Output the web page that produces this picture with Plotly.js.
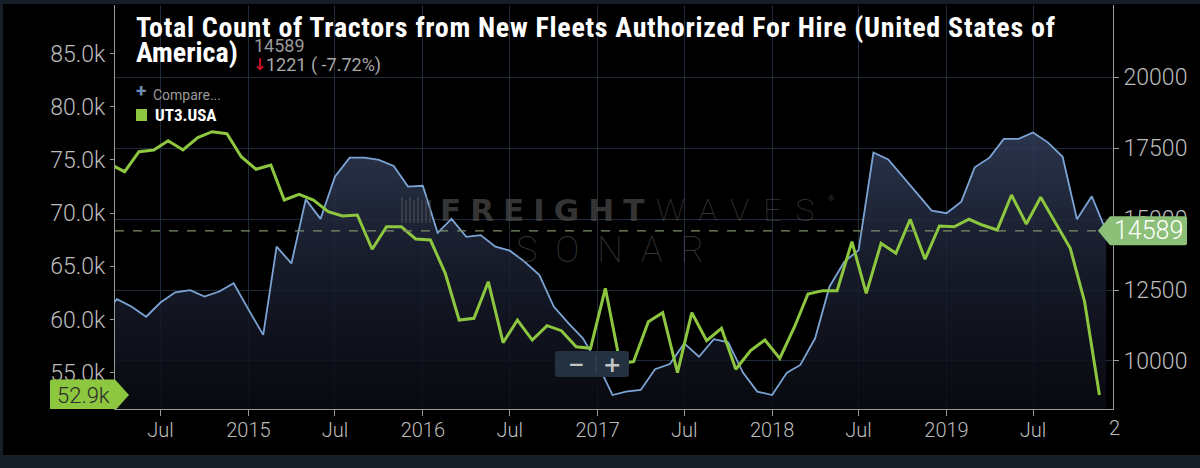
<!DOCTYPE html>
<html><head><meta charset="utf-8">
<script src="https://cdn.plot.ly/plotly-3.0.1.min.js"></script>
<style>
html,body{margin:0;padding:0;background:#161f28;width:1200px;height:468px;overflow:hidden;}
#chart{position:absolute;left:3px;top:4px;width:1197px;height:451px;}
</style></head><body><div id="chart"></div>
<script>
// ---- data ----
const titleText = 'Total Count of Tractors from New Fleets Authorized For Hire (United States of';
const titleText2 = 'America)';
const blueName = 'Total Count of Tractors from New Fleets Authorized For Hire';
const greenName = 'UT3.USA';
const blueStart = [2014, 3];   // first month of blue series (Mar 2014)
const greenStart = [2014, 3];  // green series is stamped mid previous month
const blueValues = [
  11600, 12180, 11920, 11560, 12060, 12420, 12500, 12270, 12450, 12740,
  11820, 10920, 14030, 13440, 15700, 15010, 16500, 17170, 17170, 17090, 16880, 16150,
  16180, 14520, 15010, 14380, 14440, 14030, 13890, 13500, 13030, 11920, 11330, 10800,
  9900, 8800, 8920, 8980, 9710, 9890, 10620, 10150, 10770, 10660, 9590, 8920,
  8800, 9590, 9860, 10800, 12620, 13500, 13910, 17350, 17110, 16520, 15920, 15300,
  15210, 15620, 16830, 17170, 17830, 17830, 18060, 17710, 17200, 15000, 15810, 14589
];
const greenValues = [
  74600, 73890, 75770, 75930, 76800, 75930, 77090, 77650, 77460,
  75300, 74120, 74520, 71230, 71770, 71230, 70130, 69730, 69820, 66600, 68720, 68720,
  67570, 67470, 64340, 59950, 60110, 63550, 57820, 59950, 58070, 59420, 58950, 57440,
  57290, 62930, 55880, 56030, 59790, 60640, 55000, 60640, 58010, 59170, 55320, 57070,
  58070, 56350, 59320, 62400, 62710, 62710, 67310, 62460, 67160, 66220, 69420, 65660,
  68790, 68720, 69420, 68880, 68410, 71700, 68980, 71490, 69100, 66690, 61670, 52900
];
const tickDates = ['2014-07-01','2015-01-01','2015-07-01','2016-01-01','2016-07-01','2017-01-01',
                   '2017-07-01','2018-01-01','2018-07-01','2019-01-01','2019-07-01'];
const tickLabels = ['Jul','2015','Jul','2016','Jul','2017','Jul','2018','Jul','2019','Jul'];
const leftTicks = [55000, 60000, 65000, 70000, 75000, 80000, 85000];
const rightTicks = [10000, 12500, 15000, 17500, 20000];

function monthSeq(y, m, n, day) {
  const out = [];
  for (let i = 0; i < n; i++) {
    const mm = m - 1 + i;
    const yy = y + Math.floor(mm / 12);
    const mo = (mm % 12) + 1;
    out.push(yy + '-' + String(mo).padStart(2, '0') + '-' + String(day).padStart(2, '0'));
  }
  return out;
}
const blueDates = monthSeq(blueStart[0], blueStart[1], blueValues.length, 1);
const greenDates = monthSeq(greenStart[0], greenStart[1], greenValues.length, 17);

const lastBlue = blueValues[blueValues.length - 1];
const prevBlue = blueValues[blueValues.length - 2];
const diff = lastBlue - prevBlue;
const pct = diff / prevBlue * 100;
const lastGreen = greenValues[greenValues.length - 1];

// ---- geometry helpers (page pixels -> paper) ----
const PL = 115, PR = 1113, PT = 5, PB = 409;
const px = x => (x - PL) / (PR - PL);
const py = y => (PB - y) / (PB - PT);

const cond = '"Roboto Condensed", "Liberation Sans Narrow", "DejaVu Sans Condensed", Roboto, sans-serif';
const gridC = '#1f2b38';
const axC = '#9a9a9a';
const wmC = 'rgba(88,88,88,0.6)';

const blueTrace = {
  x: blueDates, y: blueValues, name: blueName, type: 'scatter', mode: 'lines',
  yaxis: 'y', line: {color: '#7ba4d4', width: 1.8},
  fill: 'tozeroy',
  fillgradient: {type: 'vertical', start: 8300, stop: 18200,
    colorscale: [[0, 'rgba(10,11,18,0.85)'], [0.5, 'rgba(26,31,48,0.85)'], [1, 'rgba(50,62,90,0.85)']]},
  hoverinfo: 'skip'
};
const greenTrace = {
  x: greenDates, y: greenValues, name: greenName, type: 'scatter', mode: 'lines',
  yaxis: 'y2', line: {color: '#8dc63f', width: 3}, hoverinfo: 'skip'
};

function ann(text, x, y, opts) {
  return Object.assign({text: text, x: x, y: y, xref: 'paper', yref: 'paper', showarrow: false,
    xanchor: 'left', yanchor: 'middle', align: 'left'}, opts || {});
}

const annotations = [
  ann(titleText, px(134), py(27.5), {font: {family: cond, size: 28, color: '#ffffff', weight: 700}}),
  ann(titleText2, px(134), py(52), {font: {family: cond, size: 28, color: '#ffffff', weight: 700}}),
  ann(String(lastBlue), px(252), py(45.5), {font: {family: 'Roboto', size: 18, color: '#9a9a9a'}}),
  ann(diff < 0 ? '\u2193' : '\u2191', px(251), py(64), {font: {family: 'DejaVu Sans', size: 16, color: '#d0102a', weight: 700}}),
  ann(Math.abs(diff) + ' ( ' + pct.toFixed(2) + '%)', px(264), py(65), {font: {family: 'Roboto', size: 18, color: '#a8a8a8'}}),
  ann('+', px(134), py(91), {font: {family: 'Roboto', size: 19, color: '#6e8db3', weight: 700}}),
  ann('Compare...', px(151), py(95), {font: {family: 'Roboto', size: 14, color: '#9a9a9a'}}),
  ann(greenName, px(153), py(115), {font: {family: cond, size: 17, color: '#ffffff', weight: 700}}),
  // watermark
  ann('FREIGHT', px(438), py(210), {font: {family: 'DejaVu Sans', size: 31, color: wmC, weight: 700}}),
  ann('WAVES', px(654), py(210), {font: {family: 'Roboto', size: 32, color: wmC, weight: 100}}),
  ann('\u00AE', px(826), py(198), {font: {family: 'Roboto', size: 8, color: wmC}}),
  ann('SONAR', px(514), py(250), {font: {family: 'Roboto', size: 36, color: wmC, weight: 100}}),
  // tags
  {text: String(lastBlue), xref: 'paper', x: 1, xanchor: 'center', xshift: 35, yref: 'y', y: lastBlue,
   yanchor: 'middle', showarrow: false, font: {family: 'Roboto', size: 25, color: '#ffffff', weight: 300}},
  {text: (lastGreen / 1000).toFixed(1) + 'k', xref: 'paper', x: 0, xanchor: 'center', xshift: -32, yref: 'y2', y: lastGreen,
   yanchor: 'middle', showarrow: false, font: {family: 'Roboto', size: 22, color: '#2b2b2b', weight: 300}},
  // zoom buttons
  ann('\u2212', px(566), py(364), {font: {family: 'DejaVu Sans', size: 20, color: '#c4c4c4', weight: 700}}),
  ann('+', px(601), py(364), {font: {family: 'DejaVu Sans', size: 22, color: '#c4c4c4', weight: 700}}),
  // clipped 2020 label
  ann('2', px(1107), py(428), {font: {family: 'Roboto', size: 20, color: '#bdbdbd', weight: 300}})
];

const shapes = [
  {type: 'line', xref: 'paper', x0: 0, x1: 1, yref: 'y', y0: lastBlue, y1: lastBlue,
   line: {color: '#7d9068', width: 1.2, dash: 'dash'}, layer: 'above'},
  {type: 'path', xref: 'paper', xsizemode: 'pixel', xanchor: 1, yref: 'y', ysizemode: 'pixel', yanchor: lastBlue,
   path: 'M -15 0 L -3 14.5 L 72 14.5 Q 74 14.5 74 12.5 L 74 -12.5 Q 74 -14.5 72 -14.5 L -3 -14.5 Z',
   fillcolor: '#8cc078', line: {width: 0}, layer: 'above'},
  {type: 'path', xref: 'paper', xsizemode: 'pixel', xanchor: 0, yref: 'y2', ysizemode: 'pixel', yanchor: lastGreen,
   path: 'M 14 0 L 0 15.5 L -63 15.5 Q -65 15.5 -65 13.5 L -65 -13.5 Q -65 -15.5 -63 -15.5 L 0 -15.5 Z',
   fillcolor: '#8dc63f', line: {width: 0}, layer: 'above'},
  // legend square
  {type: 'rect', xref: 'paper', yref: 'paper', x0: px(136), x1: px(147), y0: py(121), y1: py(109),
   fillcolor: '#8dc63f', line: {width: 0}, layer: 'above'},
  // zoom buttons
  {type: 'path', xref: 'paper', yref: 'paper', layer: 'above', fillcolor: '#233140', line: {width: 0},
   path: 'M ' + px(558) + ' ' + py(351) + ' L ' + px(626) + ' ' + py(351) + ' Q ' + px(629) + ' ' + py(351) + ' ' + px(629) + ' ' + py(354) +
         ' L ' + px(629) + ' ' + py(374) + ' Q ' + px(629) + ' ' + py(377) + ' ' + px(626) + ' ' + py(377) +
         ' L ' + px(558) + ' ' + py(377) + ' Q ' + px(555) + ' ' + py(377) + ' ' + px(555) + ' ' + py(374) +
         ' L ' + px(555) + ' ' + py(354) + ' Q ' + px(555) + ' ' + py(351) + ' ' + px(558) + ' ' + py(351) + ' Z'},
  {type: 'line', xref: 'paper', yref: 'paper', x0: px(596), x1: px(596), y0: py(355), y1: py(373),
   line: {color: '#3d4d5c', width: 1}, layer: 'above'}
];
// watermark logo bars
[401, 405, 409, 413, 417, 421, 425, 429].forEach((bx, i) => {
  shapes.push({type: 'rect', xref: 'paper', yref: 'paper', x0: px(bx), x1: px(bx + 2),
    y0: py(223), y1: py(i % 2 ? 200 : 197), fillcolor: 'rgba(80,80,80,0.55)', line: {width: 0}, layer: 'above'});
});

const layout = {
  width: 1197, height: 451,
  margin: {l: 112, r: 87, t: 1, b: 46},
  paper_bgcolor: '#000000', plot_bgcolor: '#000000',
  showlegend: false,
  xaxis: {type: 'date', range: ['2014-03-27 19:00', '2019-12-15 10:00'],
    tickvals: tickDates, ticktext: tickLabels,
    showgrid: true, gridcolor: gridC, gridwidth: 1, zeroline: false,
    showline: true, linecolor: axC, linewidth: 1,
    ticks: 'outside', ticklen: 6, tickcolor: axC, ticklabelstandoff: -3,
    tickfont: {family: 'Roboto', size: 20, color: '#bdbdbd', weight: 300}},
  yaxis: {side: 'right', range: [8307, 22553], tickvals: rightTicks, tickformat: 'd',
    showgrid: true, gridcolor: gridC, zeroline: false,
    showline: true, linecolor: axC, linewidth: 1,
    ticks: 'outside', ticklen: 5, tickcolor: axC,
    tickfont: {family: 'Roboto', size: 23, color: '#bdbdbd', weight: 300}},
  yaxis2: {overlaying: 'y', side: 'left', range: [51588, 89558], tickvals: leftTicks, tickformat: '.3s',
    showgrid: false, zeroline: false,
    showline: true, linecolor: axC, linewidth: 1,
    ticks: 'outside', ticklen: 4, tickcolor: axC,
    tickfont: {family: 'Roboto', size: 23, color: '#bdbdbd', weight: 300}},
  annotations: annotations,
  shapes: shapes
};

Plotly.newPlot('chart', [blueTrace, greenTrace], layout, {displayModeBar: false, staticPlot: true}).then(() => {
  const spacing = {'FREIGHT': 9, 'WAVES': 14, 'SONAR': 18};
  spacing[titleText] = 0.7;
  document.querySelectorAll('#chart .annotation-text').forEach(t => {
    const s = t.textContent;
    if (spacing[s] !== undefined) t.setAttribute('letter-spacing', spacing[s]);
  });
});
</script></body></html>
